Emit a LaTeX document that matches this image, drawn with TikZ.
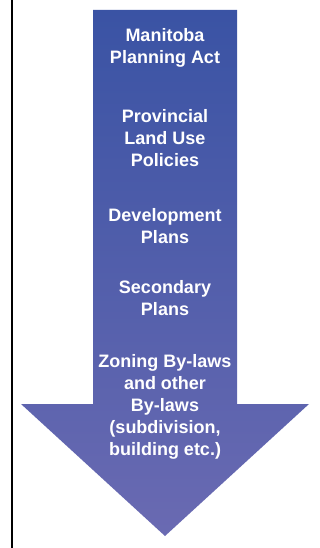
\documentclass[tikz,border=0pt]{standalone}
\usepackage{fontspec}
\usepackage{tikz}
\setmainfont{Liberation Sans}
\definecolor{arrowtop}{RGB}{58,83,164}
\definecolor{arrowbottom}{RGB}{106,106,178}

\begin{document}
\begin{tikzpicture}[x=1pt, y=-1pt,
    level/.style ={align=center, text=white, font=\bfseries\fontsize{18}{22}\selectfont, inner sep=0pt}]
   \useasboundingbox (0,0) rectangle (320,548);
   \draw[line width=1.3pt] (12,0) -- (12,548);
   \shade[top color=arrowtop, bottom color=arrowbottom]
     (93,10) -- (237,10) -- (237,404) -- (309,404) -- (165,536)
     -- (21,404) -- (93,404) -- cycle;
   \node[level] (act) at (165,48)  {Manitoba\\Planning Act};
   \node[level] (policies) at (165,138) {Provincial\\Land Use\\Policies};
   \node[level] (devplans) at (165,226) {Development\\Plans};
   \node[level] (secplans) at (165,298) {Secondary\\Plans};
   \node[level] (bylaws) at (165,407) {Zoning By-laws\\and other\\By-laws\\(subdivision,\\building etc.)};
 \end{tikzpicture}
\end{document}
